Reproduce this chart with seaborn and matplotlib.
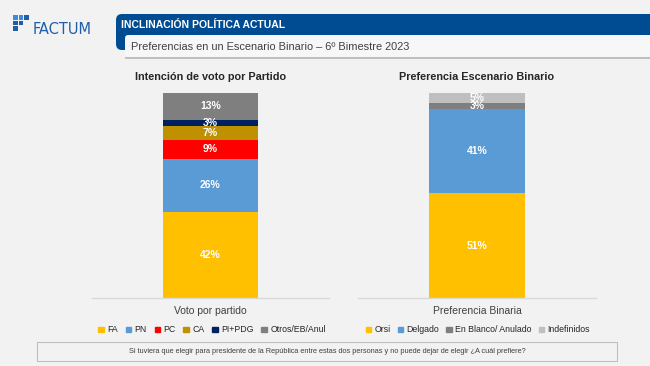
import matplotlib
matplotlib.use("Agg")
import matplotlib.pyplot as plt
from matplotlib.patches import FancyBboxPatch, Rectangle, Patch
import seaborn as sns
import pandas as pd

# data
party_labels = ['FA', 'PN', 'PC', 'CA', 'PI+PDG', 'Otros/EB/Anul']
party_values = [42, 26, 9, 7, 3, 13]
party_colors = ['#FFC000', '#5B9BD5', '#FF0000', '#BF9000', '#002060', '#7F7F7F']

binary_labels = ['Orsi', 'Delgado', 'En Blanco/ Anulado', 'Indefinidos']
binary_values = [51, 41, 3, 5]
binary_colors = ['#FFC000', '#5B9BD5', '#7F7F7F', '#BFBFBF']

left_cat = 'Voto por partido'
right_cat = 'Preferencia Binaria'

BG = '#F2F2F2'
W, H = 650, 366

sns.set_theme(style='white')
plt.rcParams['font.family'] = ['Liberation Sans', 'DejaVu Sans']

fig = plt.figure(figsize=(6.5, 3.66), dpi=100, facecolor=BG)

# overlay in pixel coordinates for header / boxes
deco = fig.add_axes([0, 0, 1, 1], zorder=0)
deco.set_xlim(0, W)
deco.set_ylim(H, 0)
deco.axis('off')
deco.patch.set_alpha(0)


def fx(px):
    return px / W


def fy(py):
    return 1 - py / H


def stacked(ax, cat, values, colors, title):
    # overlapping cumulative bars, tallest first
    cum = pd.Series(values).cumsum().tolist()
    for i in reversed(range(len(values))):
        df = pd.DataFrame({'cat': [cat], 'val': [cum[i]]})
        sns.barplot(data=df, x='cat', y='val', color=colors[i], width=0.4,
                    saturation=1, ax=ax, linewidth=0)
    for i, v in enumerate(values):
        mid = cum[i] - v / 2
        ax.text(0, mid, f'{v}%', ha='center', va='center', color='white',
                fontsize=7.5, fontweight='bold')
    ax.set_xlim(-0.5, 0.5)
    ax.set_ylim(0, 100)
    ax.patch.set_alpha(0)
    for s in ['top', 'right', 'left']:
        ax.spines[s].set_visible(False)
    ax.spines['bottom'].set_color('#D9D9D9')
    ax.spines['bottom'].set_linewidth(1)
    ax.set_yticks([])
    ax.set_xlabel('')
    ax.set_ylabel('')
    ax.tick_params(axis='x', length=0, labelsize=7.5, labelcolor='#404040', pad=6)
    ax.set_title(title, fontsize=7.8, fontweight='bold', color='#262626', pad=9)


ax1 = fig.add_axes([fx(92), fy(298), fx(329 - 92), (298 - 93) / H], zorder=2)
stacked(ax1, left_cat, party_values, party_colors, 'Intención de voto por Partido')
ax2 = fig.add_axes([fx(358), fy(298), fx(596 - 358), (298 - 93) / H], zorder=2)
stacked(ax2, right_cat, binary_values, binary_colors, 'Preferencia Escenario Binario')

# legends
h1 = [Patch(color=c, label=l) for l, c in zip(party_labels, party_colors)]
fig.legend(handles=h1, loc='center', bbox_to_anchor=(fx(212), fy(330)), ncol=6,
           frameon=False, fontsize=6.3, handlelength=0.6, handleheight=0.6,
           handletextpad=0.4, columnspacing=0.9, labelcolor='#262626')
h2 = [Patch(color=c, label=l) for l, c in zip(binary_labels, binary_colors)]
fig.legend(handles=h2, loc='center', bbox_to_anchor=(fx(478), fy(330)), ncol=4,
           frameon=False, fontsize=6.3, handlelength=0.6, handleheight=0.6,
           handletextpad=0.4, columnspacing=0.8, labelcolor='#262626')

# header banner
deco.add_patch(FancyBboxPatch((116, 14), 560, 36,
                              boxstyle='round,pad=0,rounding_size=6',
                              facecolor='#004C93', edgecolor='none', zorder=1))
deco.add_patch(Rectangle((125, 57), 530, 1.6, facecolor='#BFBFBF',
                         edgecolor='none', zorder=2))
deco.add_patch(FancyBboxPatch((125, 35), 540, 22,
                              boxstyle='round,pad=0,rounding_size=3',
                              facecolor='#F7F7F7', edgecolor='none', zorder=3))
deco.text(121, 25, 'INCLINACIÓN POLÍTICA ACTUAL', color='white',
          fontsize=7.5, fontweight='bold', va='center', ha='left', zorder=5)
deco.text(131, 46.5, 'Preferencias en un Escenario Binario – 6º Bimestre 2023',
          color='#404040', fontsize=7.9, va='center', ha='left', zorder=5)

# logo
step = 5.6
logo_cells = [(0, 0, '#3A8DDE'), (1, 0, '#3A8DDE'), (2, 0, '#1F5FA8'),
              (0, 1, '#1F5FA8'), (1, 1, '#1F5FA8'),
              (0, 2, '#1F5FA8')]
for (cx, cy, c) in logo_cells:
    deco.add_patch(Rectangle((13 + cx * step, 15 + cy * step), 4.8, 4.8,
                             facecolor=c, edgecolor='none', zorder=2))
deco.text(33, 29, 'FACTUM', color='#1F5FA8', fontsize=10.5,
          family='DejaVu Sans', va='center', ha='left', zorder=2)

# question box
deco.add_patch(Rectangle((37, 342), 617 - 37, 361 - 342, facecolor='#F2F2F2',
                         edgecolor='#BFBFBF', linewidth=0.8, zorder=1))
deco.text(327, 351.5,
          'Si tuviera que elegir para presidente de la República entre estas dos personas y no puede dejar de elegir ¿A cuál prefiere?',
          color='#404040', fontsize=5.3, ha='center', va='center', zorder=2)

fig.savefig('out.png', dpi=100, facecolor=BG)
